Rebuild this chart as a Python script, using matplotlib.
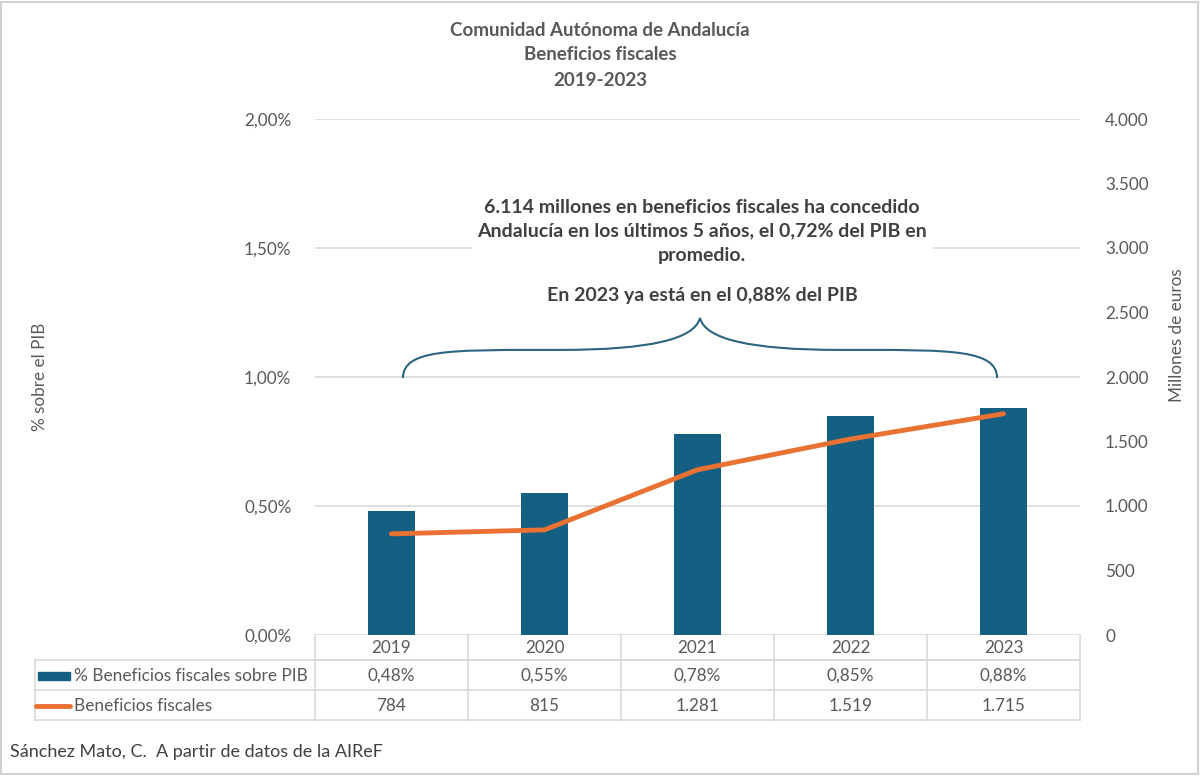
import matplotlib
matplotlib.use('Agg')
import matplotlib.pyplot as plt
from matplotlib.path import Path
from matplotlib.patches import PathPatch, Rectangle
from matplotlib.lines import Line2D
import matplotlib.transforms as mtransforms

plt.rcParams['font.family'] = ['Lato', 'DejaVu Sans']

years = ['2019', '2020', '2021', '2022', '2023']
pct_pib = [0.48, 0.55, 0.78, 0.85, 0.88]
beneficios = [784, 815, 1281, 1519, 1715]
pct_labels = ['0,48%', '0,55%', '0,78%', '0,85%', '0,88%']
ben_labels = ['784', '815', '1.281', '1.519', '1.715']
left_ticks = [0, 0.5, 1.0, 1.5, 2.0]
left_tick_labels = ['0,00%', '0,50%', '1,00%', '1,50%', '2,00%']
right_ticks = [0, 500, 1000, 1500, 2000, 2500, 3000, 3500, 4000]
right_tick_labels = ['0', '500', '1.000', '1.500', '2.000', '2.500', '3.000', '3.500', '4.000']

BAR_COLOR = '#156082'
LINE_COLOR = '#E97132'
TEXT = '#595959'
GRID = '#D9D9D9'
FS = 12.3

W, H = 1200, 776
fig = plt.figure(figsize=(W / 100, H / 100), dpi=100)

def fx(px):
    return px / W

def fy(py):
    return 1 - py / H

# outer frame
fig.add_artist(Rectangle((0.001, 0.002), 0.997, 0.995, transform=fig.transFigure,
                         fill=False, edgecolor='#D0D0D0', linewidth=1.5))

ax = fig.add_axes([fx(315), fy(635), fx(1080) - fx(315), fy(119) - fy(635)])
ax2 = ax.twinx()
x = list(range(len(years)))

ax.bar(x, pct_pib, width=0.31, color=BAR_COLOR, zorder=3)
ax2.plot(x, beneficios, color=LINE_COLOR, linewidth=3.5, solid_capstyle='round', zorder=4)

ax.set_xlim(-0.5, 4.5)
ax.set_ylim(0, 2.0)
ax2.set_ylim(0, 4000)
ax.set_yticks(left_ticks)
ax.set_yticklabels(left_tick_labels)
ax2.set_yticks(right_ticks)
ax2.set_yticklabels(right_tick_labels)
ax.set_xticks([])
ax.grid(axis='y', color=GRID, linewidth=1.2, zorder=0)
ax.set_axisbelow(True)
for a in (ax, ax2):
    for s in a.spines.values():
        s.set_visible(False)
    a.tick_params(length=0, labelsize=FS, labelcolor=TEXT)
ax.tick_params(axis='y', pad=17)
ax2.tick_params(axis='y', pad=18)

fig.text(fx(40), fy(377), '% sobre el PIB', rotation=90, ha='center', va='center',
         fontsize=FS, color=TEXT)
fig.text(fx(1177), fy(335), 'Millones de euros', rotation=90, ha='center', va='center',
         fontsize=FS, color=TEXT)

# title
for txt, py in [('Comunidad Autónoma de Andalucía', 30), ('Beneficios fiscales', 55),
                ('2019-2023', 80)]:
    fig.text(0.5, fy(py), txt, ha='center', va='center',
             fontsize=13.5, fontweight='bold', color=TEXT)

# annotation
ax.text(2.03, 1.565, '6.114 millones en beneficios fiscales ha concedido\n'
        'Andalucía en los últimos 5 años, el 0,72% del PIB en\npromedio.',
        ha='center', va='center', fontsize=14, fontweight='bold', color='#404040',
        linespacing=1.5, zorder=5,
        bbox=dict(facecolor='white', edgecolor='none', pad=4))
ax.text(2.03, 1.314, 'En 2023 ya está en el 0,88% del PIB', ha='center', va='center',
        fontsize=14, fontweight='bold', color='#404040', zorder=5)

# curly brace
xl, xm, xr = 0.075, 2.016, 3.958
yb, yh, yt = 0.996, 1.105, 1.229
verts = [(xl, yb), (xl, yh), (xl + 0.3, yh), (xl + 0.9, yh),
         (xm - 0.9, yh), (xm - 0.05, yh), (xm, yt),
         (xm + 0.05, yh), (xm + 0.9, yh), (xr - 0.9, yh),
         (xr - 0.3, yh), (xr, yh), (xr, yb)]
codes = [Path.MOVETO, Path.CURVE4, Path.CURVE4, Path.CURVE4,
         Path.LINETO, Path.CURVE3, Path.CURVE3,
         Path.CURVE3, Path.CURVE3, Path.LINETO,
         Path.CURVE4, Path.CURVE4, Path.CURVE4]
ax.add_patch(PathPatch(Path(verts, codes), fill=False, edgecolor='#2C6382',
                       linewidth=1.5, zorder=5))

# data table
bt = mtransforms.blended_transform_factory(ax.transData, fig.transFigure)
bounds = [i - 0.5 for i in range(len(years) + 1)]
left_px = 35

def hline(x0, x1, py):
    fig.add_artist(Line2D([x0, x1], [fy(py), fy(py)], transform=fig.transFigure,
                          color=GRID, linewidth=1.2))

for b in bounds:
    fig.add_artist(Line2D([b, b], [fy(635), fy(720)], transform=bt,
                          color=GRID, linewidth=1.2))
hline(fx(315), fx(1080), 660)
hline(fx(left_px), fx(1080), 660)
hline(fx(left_px), fx(1080), 690)
hline(fx(left_px), fx(1080), 720)
fig.add_artist(Line2D([fx(left_px), fx(left_px)], [fy(660), fy(720)],
                      transform=fig.transFigure, color=GRID, linewidth=1.2))

for i, yr in enumerate(years):
    fig.text(i, fy(648), yr, transform=bt, ha='center', va='center', fontsize=FS, color=TEXT)
    fig.text(i, fy(676), pct_labels[i], transform=bt, ha='center', va='center',
             fontsize=FS, color=TEXT)
    fig.text(i, fy(706), ben_labels[i], transform=bt, ha='center', va='center',
             fontsize=FS, color=TEXT)

fig.add_artist(Rectangle((fx(38), fy(680)), fx(70) - fx(38), fy(672) - fy(680),
                         transform=fig.transFigure, color=BAR_COLOR))
fig.text(fx(74), fy(676), '% Beneficios fiscales sobre PIB', ha='left', va='center',
         fontsize=12.4, color=TEXT)
fig.add_artist(Line2D([fx(36), fx(70)], [fy(706), fy(706)], transform=fig.transFigure,
                      color=LINE_COLOR, linewidth=3.5, solid_capstyle='round'))
fig.text(fx(74), fy(706), 'Beneficios fiscales', ha='left', va='center',
         fontsize=12.4, color=TEXT)

fig.text(fx(10), fy(752), 'Sánchez Mato, C.  A partir de datos de la AIReF', ha='left',
         va='center', fontsize=13, color='#404040')

fig.savefig('out.png', dpi=100, facecolor='white')
